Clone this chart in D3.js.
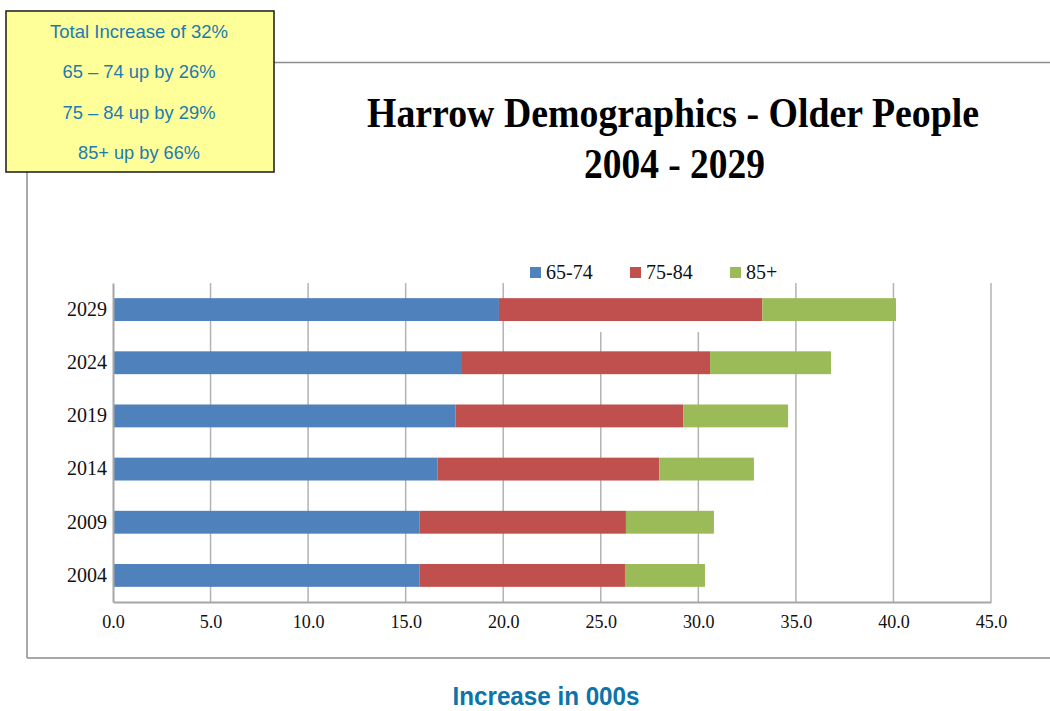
<!DOCTYPE html>
<html>
<head>
<meta charset="utf-8">
<script src="https://cdn.jsdelivr.net/npm/d3@7"></script>
<style>
  html, body { margin: 0; padding: 0; background: #fff; }
  svg { display: block; }
</style>
</head>
<body>
<svg id="chart" width="1050" height="711"></svg>
<script>
// Harrow older population (thousands) by age band, stacked per year
const years = ["2004", "2009", "2014", "2019", "2024", "2029"];
const seriesNames = ["65-74", "75-84", "85+"];
const age65to74 = [15.72, 15.72, 16.64, 17.56, 17.84, 19.78];
const age75to84 = [10.52, 10.57, 11.36, 11.66, 12.76, 13.50];
const age85plus = [4.10, 4.51, 4.85, 5.38, 6.20, 6.85];
const xTicks = [0, 5, 10, 15, 20, 25, 30, 35, 40, 45];
const calloutLines = ["Total Increase of 32%", "65 \u2013 74 up by 26%", "75 \u2013 84 up by 29%", "85+ up by 66%"];

const colors = ["#4F81BD", "#C0504D", "#9BBB59"];

const rows = years.map((y, i) => ({
  year: y,
  "65-74": age65to74[i],
  "75-84": age75to84[i],
  "85+": age85plus[i]
}));

const svg = d3.select("#chart");

// squeeze a text element to a given width
function fit(sel, w) {
  sel.attr("textLength", w).attr("lengthAdjust", "spacingAndGlyphs");
  return sel;
}

// outer chart frame
const frame = svg.append("g").attr("stroke", "#8c8c8c").attr("stroke-width", 1.5).attr("fill", "none");
frame.append("line").attr("x1", 274).attr("y1", 62.5).attr("x2", 1050).attr("y2", 62.5);
frame.append("line").attr("x1", 27).attr("y1", 172).attr("x2", 27).attr("y2", 658);
frame.append("line").attr("x1", 27).attr("y1", 658).attr("x2", 1050).attr("y2", 658);

// title
const title = svg.append("g")
  .attr("font-family", "'Liberation Serif', 'Times New Roman', serif")
  .attr("font-weight", "bold").attr("font-size", 42).attr("fill", "#000")
  .attr("text-anchor", "middle");
fit(title.append("text").attr("x", 673).attr("y", 127).text("Harrow Demographics  - Older People"), 612);
fit(title.append("text").attr("x", 674.5).attr("y", 178).text("2004 - 2029"), 181);

// scales
const x = d3.scaleLinear().domain([0, 45]).range([113, 991]);
const y = d3.scaleBand().domain(years.slice().reverse()).range([283, 602])
  .paddingInner(0.57).paddingOuter(0.285);

// vertical gridlines
const grid = svg.append("g").attr("stroke", "#b3b3b3").attr("stroke-width", 1.5);
grid.selectAll("line").data(xTicks.filter(d => d > 0)).join("line")
  .attr("x1", d => x(d)).attr("x2", d => x(d))
  .attr("y1", 283).attr("y2", 602);

// legend backdrop hides the upper gridline stubs beneath the legend block
svg.append("rect").attr("x", x(21)).attr("y", 282).attr("width", x(34) - x(21)).attr("height", 50).attr("fill", "#fff");

// stacked bars
const stack = d3.stack().keys(seriesNames)(rows);
svg.append("g").selectAll("g").data(stack).join("g")
  .attr("fill", (d, i) => colors[i])
  .selectAll("rect").data(d => d).join("rect")
  .attr("x", d => x(d[0]))
  .attr("width", d => x(d[1]) - x(d[0]))
  .attr("y", d => y(d.data.year))
  .attr("height", y.bandwidth());

// axes
const xAxis = d3.axisBottom(x).tickValues(xTicks).tickFormat(d3.format(".1f"))
  .tickSize(0).tickSizeOuter(0).tickPadding(13);
const gx = svg.append("g").attr("transform", "translate(0,602)").call(xAxis);
gx.select(".domain").attr("stroke", "#a6a6a6").attr("stroke-width", 2);
gx.selectAll("text").attr("font-family", "'Liberation Serif', 'Times New Roman', serif")
  .attr("font-size", 19).attr("fill", "#111")
  .each(function () { const t = d3.select(this); fit(t, this.getComputedTextLength() * 0.95); });

const yAxis = d3.axisLeft(y).tickSize(0).tickSizeOuter(0).tickPadding(6);
const gy = svg.append("g").attr("transform", "translate(113,0)").call(yAxis);
gy.select(".domain").attr("stroke", "#a6a6a6").attr("stroke-width", 2);
gy.selectAll("text").attr("font-family", "'Liberation Serif', 'Times New Roman', serif")
  .attr("font-size", 20).attr("fill", "#111");

// legend
const legend = svg.append("g").selectAll("g").data(seriesNames).join("g")
  .attr("transform", (d, i) => `translate(${530 + i * 100},267)`);
legend.append("rect").attr("width", 11).attr("height", 11).attr("fill", (d, i) => colors[i]);
legend.append("text").attr("x", 16).attr("y", 12)
  .attr("font-family", "'Liberation Serif', 'Times New Roman', serif")
  .attr("font-size", 20).attr("fill", "#111").text(d => d);

// callout box
svg.append("rect").attr("x", 6).attr("y", 11).attr("width", 268).attr("height", 161)
  .attr("fill", "#FFFF99").attr("stroke", "#1a1a1a").attr("stroke-width", 1.5);
const calloutWidths = [178, 153, 153, 122];
const calloutY = [38, 78, 119, 159];
svg.append("g").selectAll("text").data(calloutLines).join("text")
  .attr("x", 139).attr("y", (d, i) => calloutY[i])
  .attr("text-anchor", "middle")
  .attr("font-family", "'Liberation Sans', Arial, sans-serif")
  .attr("font-size", 19).attr("fill", "#1C7BB0")
  .text(d => d)
  .each(function (d, i) { fit(d3.select(this), calloutWidths[i]); });

// axis caption
fit(svg.append("text").attr("x", 546).attr("y", 705)
  .attr("text-anchor", "middle")
  .attr("font-family", "'Liberation Sans', Arial, sans-serif")
  .attr("font-weight", "bold").attr("font-size", 25.5).attr("fill", "#0C74A8")
  .text("Increase in 000s"), 187);
</script>
</body>
</html>
